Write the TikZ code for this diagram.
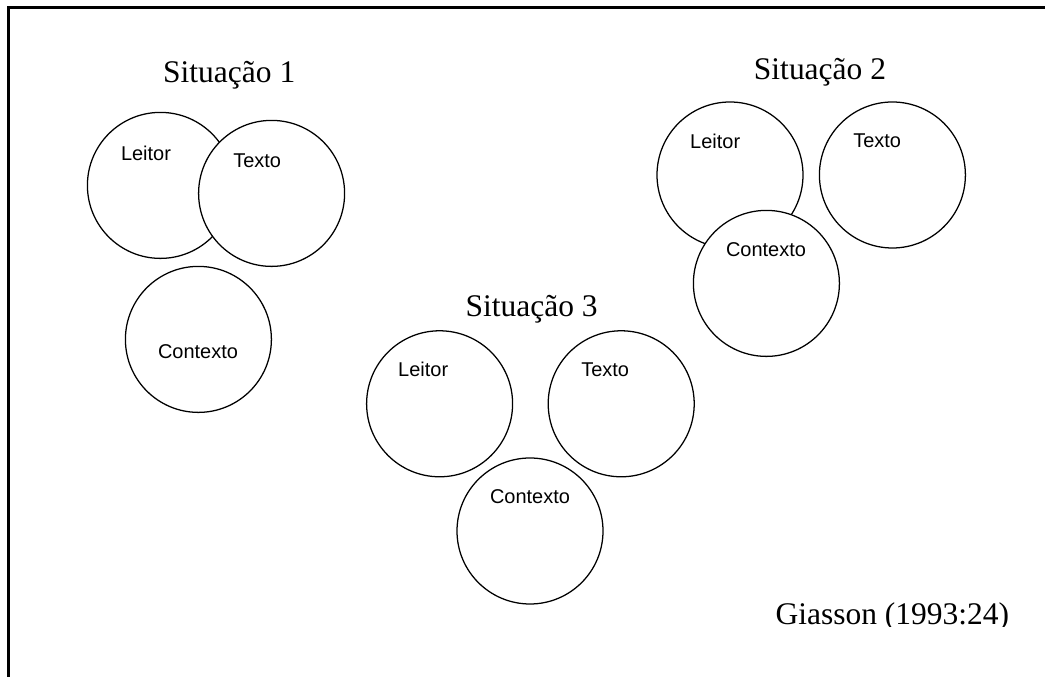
\documentclass[tikz,border=0pt]{standalone}
\usepackage{fontspec}
\setmainfont{Liberation Serif}
\newfontfamily\rotulofont{Liberation Sans}
\usepackage{tikz}

\tikzset{
  roda/.style={circle,draw,fill=white,line width=0.9pt,minimum size=3.65cm,inner sep=0pt},
  rotulo/.style={font=\rotulofont\fontsize{14.2}{17}\selectfont,inner sep=0pt},
  titulo/.style={font=\fontsize{22.4}{26}\selectfont,anchor=base,inner sep=0pt}
}

\begin{document}
\begin{tikzpicture}
                \useasboundingbox (0,0) rectangle (26.125,16.925);
                \draw[line width=1.7pt] (0.21,0) -- (0.21,16.74) -- (26.125,16.74);
                % Situacao 1
                \node[titulo] (t1) at (5.73,14.85) {Situação 1};
                \node[roda] (leitor1) at (4.01,12.29) {};
                \node[roda] (texto1) at (6.79,12.09) {};
                \node[roda] (contexto1) at (4.96,8.44) {};
                \node[rotulo] (lleitor1) at (3.65,13.10) {Leitor};
                \node[rotulo] (ltexto1) at (6.43,12.90) {Texto};
                \node[rotulo] (lcontexto1) at (4.95,8.13) {Contexto};
                % Situacao 2
                \node[titulo] (t2) at (20.50,14.93) {Situação 2};
                \node[roda] (leitor2) at (18.25,12.55) {};
                \node[roda] (texto2) at (22.31,12.55) {};
                \node[roda] (contexto2) at (19.16,9.84) {};
                \node[rotulo] (lleitor2) at (17.88,13.40) {Leitor};
                \node[rotulo] (ltexto2) at (21.93,13.40) {Texto};
                \node[rotulo] (lcontexto2) at (19.15,10.68) {Contexto};
                % Situacao 3
                \node[titulo] (t3) at (13.29,9.01) {Situação 3};
                \node[roda] (leitor3) at (10.99,6.83) {};
                \node[roda] (texto3) at (15.53,6.83) {};
                \node[roda] (contexto3) at (13.25,3.65) {};
                \node[rotulo] (lleitor3) at (10.58,7.68) {Leitor};
                \node[rotulo] (ltexto3) at (15.13,7.68) {Texto};
                \node[rotulo] (lcontexto3) at (13.25,4.50) {Contexto};
                % fonte
                \begin{scope}
                  \clip (0,1.25) rectangle (26.125,16.925);
                  \node[titulo] (fonte) at (22.31,1.30) {Giasson (1993:24)};
                \end{scope}
        \end{tikzpicture}
\end{document}
